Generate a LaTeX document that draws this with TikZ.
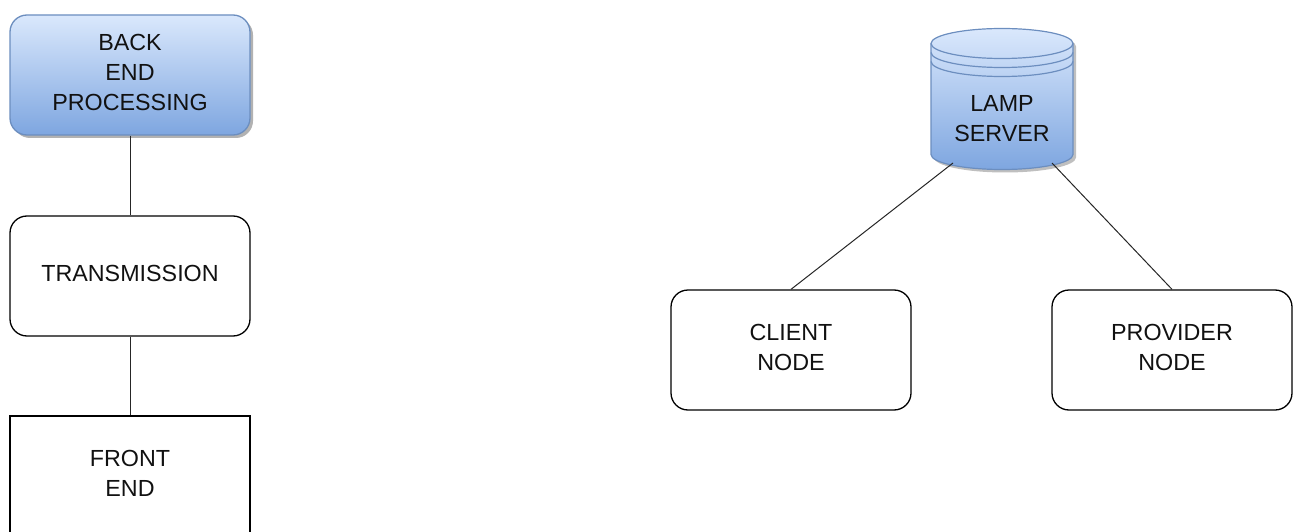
\documentclass[tikz,border=0pt]{standalone}
\usepackage{fontspec}
\setmainfont{Liberation Sans}
\usetikzlibrary{shadows}
\definecolor{bluetop}{HTML}{DAE8FC}
\definecolor{bluemid}{HTML}{B3CCF0}
\definecolor{bluebot}{HTML}{7EA6E0}
\definecolor{blueline}{HTML}{6C8EBF}
\definecolor{txt}{HTML}{111111}
\begin{document}
\begin{tikzpicture}[x=1pt,y=-1pt,
  lbl/.style={align=center, font=\fontsize{23.3}{30}\selectfont, text=txt, inner sep=0pt, text depth=6pt},
  box/.style={lbl, draw=black, line width=1.3pt, minimum width=240pt, minimum height=120pt},
  rbox/.style={box, rounded corners=17pt},
  glassbox/.style={rbox, draw=blueline, top color=bluetop, middle color=bluemid, bottom color=bluebot,
    drop shadow={shadow xshift=3pt, shadow yshift=-3pt, opacity=.3, fill=black}},
  wire/.style={draw=black!85, line width=1pt}]
\useasboundingbox (0,0) rectangle (1296,532);
\clip (0,0) rectangle (1296,532);

% left column
\node[glassbox] (back) at (130,75) {BACK\\END\\PROCESSING};
\node[rbox] (trans) at (130,276) {TRANSMISSION};
\node[box] (front) at (130,476) {FRONT\\END};
\draw[wire] (back.south) -- (trans.north);
\draw[wire] (trans.south) -- (front.north);

% cylinder (LAMP server)
\fill[black, opacity=.25, shift={(3,3)}]
  (931,43.5) -- (931,154.5) arc[start angle=180, end angle=0, x radius=71, y radius=15]
  -- (1073,43.5) arc[start angle=0, end angle=-180, x radius=71, y radius=15] -- cycle;
\shade[top color=bluetop, middle color=bluemid, bottom color=bluebot]
  (931,43.5) -- (931,154.5) arc[start angle=180, end angle=0, x radius=71, y radius=15]
  -- (1073,43.5) arc[start angle=0, end angle=-180, x radius=71, y radius=15] -- cycle;
\draw[blueline, line width=1.2pt]
  (931,43.5) -- (931,154.5) arc[start angle=180, end angle=0, x radius=71, y radius=15]
  -- (1073,43.5) arc[start angle=0, end angle=-180, x radius=71, y radius=15] -- cycle;
\draw[blueline, line width=1.2pt]
  (931,43.5) arc[start angle=180, end angle=0, x radius=71, y radius=15]
  (931,52.5) arc[start angle=180, end angle=0, x radius=71, y radius=15]
  (931,61.5) arc[start angle=180, end angle=0, x radius=71, y radius=15];
\node[lbl] (lamp) at (1002,121.5) {LAMP\\SERVER};
\coordinate (lampL) at (953,163);
\coordinate (lampR) at (1052,163);

% right nodes
\node[rbox] (client) at (791,350) {CLIENT\\NODE};
\node[rbox] (provider) at (1172,350) {PROVIDER\\NODE};
\draw[wire] (lampL) -- (client.north);
\draw[wire] (lampR) -- (provider.north);
\end{tikzpicture}
\end{document}
